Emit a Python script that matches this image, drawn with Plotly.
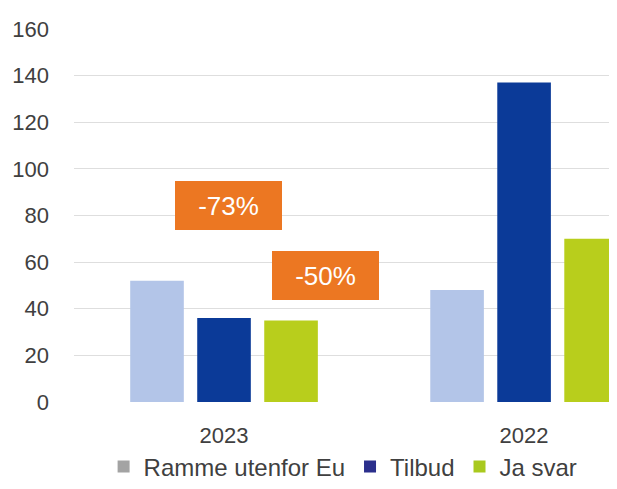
import plotly.graph_objects as go

categories = ["2023", "2022"]
ramme = [52, 48]
tilbud = [36, 137]
ja_svar = [35, 70]
series_names = ["Ramme utenfor Eu", "Tilbud", "Ja svar"]
colors = ["#B3C5E8", "#0B3A98", "#B8CE1C"]
legend_colors = ["#A3A3A3", "#2B2F8C", "#A9C91E"]
y_ticks = [0, 20, 40, 60, 80, 100, 120, 140, 160]
callouts = [("-73%", 0.015, 84.3), ("-50%", 0.338, 54.3)]

FONT = "Liberation Sans, Arial"

fig = go.Figure()
for name, vals, col in zip(series_names, [ramme, tilbud, ja_svar], colors):
    fig.add_trace(go.Bar(x=categories, y=vals, name=name, marker_color=col,
                         marker_line_width=0, showlegend=False))
for name, col in zip(series_names, legend_colors):
    fig.add_trace(go.Scatter(x=[None], y=[None], name=name, mode="markers",
                             marker=dict(symbol="square", size=12, color=col),
                             showlegend=True))

for text, xv, yv in callouts:
    fig.add_annotation(x=xv, y=yv, xref="x", yref="y", text=text, showarrow=False,
                       font=dict(family=FONT, size=26, color="white"),
                       bgcolor="#EC7722", width=101, height=43, borderpad=3,
                       borderwidth=0)

fig.update_layout(
    width=601, height=473,
    margin=dict(l=66, r=0, t=21, b=79, autoexpand=False),
    paper_bgcolor="white", plot_bgcolor="white",
    barmode="group", bargap=0.33, bargroupgap=0.2,
    font=dict(family=FONT, size=22, color="#404040"),
    showlegend=True,
    legend=dict(orientation="h", x=0.503, xanchor="center",
                yref="container", y=0.03, yanchor="middle",
                font=dict(size=24, color="#404040"), itemwidth=30,
                bgcolor="rgba(0,0,0,0)", traceorder="normal"),
    xaxis=dict(range=[-0.5, 1.283], showgrid=False, showline=False, ticks="",
               ticklabelstandoff=18, tickfont=dict(size=22)),
    yaxis=dict(range=[0, 160], tickvals=y_ticks, showgrid=True, gridcolor="#DEDEDE",
               gridwidth=1, zeroline=False, showline=False, ticks="",
               ticklabelstandoff=24, tickfont=dict(size=22)),
)

fig.write_html("out.html")
